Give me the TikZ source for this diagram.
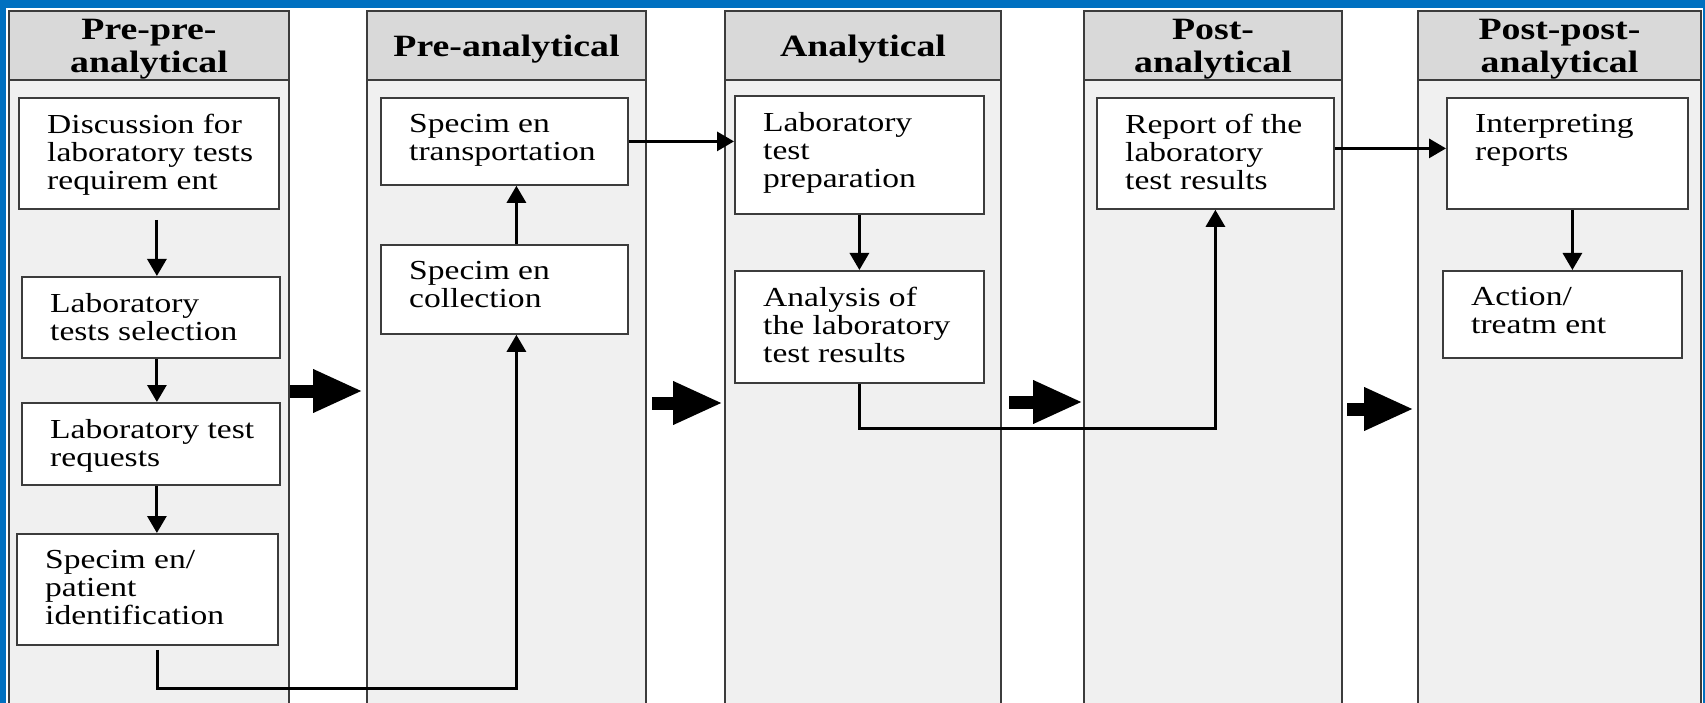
\documentclass[tikz,border=0pt]{standalone}
\usepackage{fontspec}
\setmainfont{Liberation Serif}[FakeStretch=1.22]
\usetikzlibrary{arrows.meta}
\definecolor{frameBlue}{RGB}{0, 112, 192}
\definecolor{headGray}{RGB}{217, 217, 217}
\definecolor{laneGray}{RGB}{240, 240, 240}
\definecolor{lineGray}{RGB}{60, 60, 60}

\tikzset{
  lanebox/.style={draw=lineGray, line width=2pt, fill=laneGray, anchor=north west, inner sep=0pt, minimum height=640pt},
  headbox/.style={draw=lineGray, line width=2pt, fill=headGray, anchor=north west, inner sep=0pt,
    minimum height=69pt, text depth=0pt, align=center, font=\fontsize{31}{33}\selectfont\bfseries},
  stepbox/.style={draw=lineGray, line width=1.8pt, fill=white, anchor=north west, inner sep=0pt},
  boxtext/.style={anchor=north west, align=left, inner sep=0pt, xshift=29pt, yshift=-17pt,
    font=\fontsize{27.5}{28}\selectfont},
  link/.style={line width=3pt, -{Triangle[length=17pt, width=19pt]}},
  bigarrow/.style={line width=13pt, -{Triangle[length=50pt, width=40pt]}}
}

\begin{document}
\begin{tikzpicture}[x=1pt, y=-1pt]
  \useasboundingbox (0,0) rectangle (1705,703);
  \fill[frameBlue] (0,0) rectangle (1705,703);
  \fill[white] (6,8) rectangle (1703,710);

  % lanes
  \node[lanebox, minimum width=280pt] (l1) at (8,79) {};
  \node[lanebox, minimum width=279pt] (l2) at (366,79) {};
  \node[lanebox, minimum width=276pt] (l3) at (724,79) {};
  \node[lanebox, minimum width=258pt] (l4) at (1083,79) {};
  \node[lanebox, minimum width=283pt] (l5) at (1417,79) {};

  \node[headbox, minimum width=280pt] (h1) at (8,10) {Pre-pre-\\analytical};
  \node[headbox, minimum width=279pt] (h2) at (366,10) {Pre-analytical};
  \node[headbox, minimum width=276pt] (h3) at (724,10) {Analytical};
  \node[headbox, minimum width=258pt] (h4) at (1083,10) {Post-\\analytical};
  \node[headbox, minimum width=283pt] (h5) at (1417,10) {Post-post-\\analytical};

  % pre-pre-analytical
  \node[stepbox, minimum width=260pt, minimum height=111pt,
    label={[boxtext, name=b1t]north west:Discussion for\\laboratory tests\\requirem ent}] (b1) at (18,97) {};
  \node[stepbox, minimum width=258pt, minimum height=81pt,
    label={[boxtext, name=b2t]north west:Laboratory\\tests selection}] (b2) at (21,276) {};
  \node[stepbox, minimum width=258pt, minimum height=82pt,
    label={[boxtext, name=b3t]north west:Laboratory test\\requests}] (b3) at (21,402) {};
  \node[stepbox, minimum width=261pt, minimum height=111pt,
    label={[boxtext, name=b4t]north west:Specim en/\\patient\\identification}] (b4) at (16,533) {};

  % pre-analytical
  \node[stepbox, minimum width=247pt, minimum height=87pt,
    label={[boxtext, name=c1t]north west:Specim en\\transportation}] (c1) at (380,97) {};
  \node[stepbox, minimum width=247pt, minimum height=89pt,
    label={[boxtext, name=c2t]north west:Specim en\\collection}] (c2) at (380,244) {};

  % analytical
  \node[stepbox, minimum width=249pt, minimum height=118pt,
    label={[boxtext, name=d1t]north west:Laboratory\\test\\preparation}] (d1) at (734,95) {};
  \node[stepbox, minimum width=249pt, minimum height=112pt,
    label={[boxtext, name=d2t]north west:Analysis of\\the laboratory\\test results}] (d2) at (734,270) {};

  % post-analytical
  \node[stepbox, minimum width=237pt, minimum height=111pt,
    label={[boxtext, name=e1t]north west:Report of the\\laboratory\\test results}] (e1) at (1096,97) {};

  % post-post-analytical
  \node[stepbox, minimum width=241pt, minimum height=111pt,
    label={[boxtext, name=f1t]north west:Interpreting\\reports}] (f1) at (1446,97) {};
  \node[stepbox, minimum width=239pt, minimum height=87pt,
    label={[boxtext, name=f2t]north west:Action/\\treatm ent}] (f2) at (1442,270) {};

  % connectors
  \draw[link, shorten <=10pt] ([xshift=8pt]b1.south) -- ([xshift=8pt]b1.south |- b2.north);
  \draw[link] ([xshift=6pt]b2.south) -- ([xshift=6pt]b2.south |- b3.north);
  \draw[link] ([xshift=6pt]b3.south) -- ([xshift=6pt]b3.south |- b4.north);
  \draw[link, shorten <=4pt] ([xshift=10pt]b4.south) -- ++(0,43) -| ([xshift=12pt]c2.south);
  \draw[link] ([xshift=12pt]c2.north) -- ([xshift=12pt]c1.south);
  \draw[link] (c1.east) -- (c1.east -| d1.west);
  \draw[link] (d1.south) -- (d2.north);
  \draw[link] (d2.south) -- ++(0,45) -| (e1.south);
  \draw[link] ([yshift=5pt]e1.east) -- ([yshift=5pt]e1.east -| f1.west);
  \draw[link] ([xshift=5pt]f1.south) -- ([xshift=5pt]f1.south |- f2.north);

  % stage arrows
  \draw[bigarrow] (l1.east |- 0,391) -- ([xshift=-3pt]l2.west |- 0,391);
  \draw[bigarrow] ([xshift=5pt]l2.east |- 0,403) -- ([xshift=-1pt]l3.west |- 0,403);
  \draw[bigarrow] ([xshift=7pt]l3.east |- 0,402) -- (l4.west |- 0,402);
  \draw[bigarrow] ([xshift=4pt]l4.east |- 0,409) -- ([xshift=-3pt]l5.west |- 0,409);
\end{tikzpicture}
\end{document}
